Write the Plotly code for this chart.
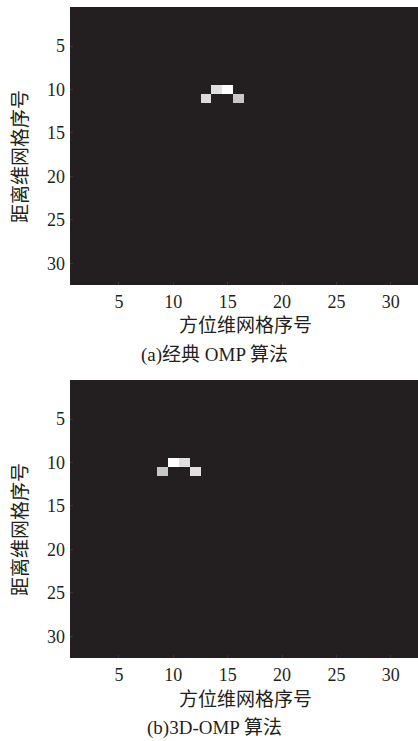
import plotly.graph_objects as go

# Grid size (range bins x azimuth bins)
n_grid = 32
grid_index = list(range(1, n_grid + 1))
tick_values = [5, 10, 15, 20, 25, 30]
tick_text = ["5", "10", "15", "20", "25", "30"]

# Recovered scatterers: (range row, azimuth column, normalised amplitude)
omp_rows = [10, 10, 11, 11]
omp_cols = [14, 15, 13, 16]
omp_vals = [0.86, 1.00, 0.84, 0.75]

omp3d_rows = [10, 10, 11, 11]
omp3d_cols = [10, 11, 9, 12]
omp3d_vals = [1.00, 0.86, 0.75, 0.86]

x_title = "方位维网格序号"
y_title = "距离维网格序号"
captions = ["(a)经典 OMP 算法", "(b)3D-OMP 算法"]


def build_image(rows, cols, vals):
    z = [[0.0] * n_grid for _ in range(n_grid)]
    for r, c, v in zip(rows, cols, vals):
        z[r - 1][c - 1] = v
    return z


W, H = 418, 741
font_family = "Liberation Serif, 'Noto Sans CJK SC', serif"
text_color = "#231f20"

# panel pixel boxes: (top, bottom)
panels = [(7, 285), (380, 658)]
x_left = 70

fig = go.Figure()
images = [build_image(omp_rows, omp_cols, omp_vals),
          build_image(omp3d_rows, omp3d_cols, omp3d_vals)]

colorscale = [[0.0, "#231f20"], [1.0, "#ffffff"]]

for i, z in enumerate(images):
    xa = "x" if i == 0 else "x2"
    ya = "y" if i == 0 else "y2"
    fig.add_trace(go.Heatmap(
        z=z, x=grid_index, y=grid_index,
        colorscale=colorscale, zmin=0, zmax=1,
        showscale=False, xaxis=xa, yaxis=ya,
        hoverinfo="skip",
    ))

axis_common = dict(
    tickmode="array", tickvals=tick_values, ticktext=tick_text,
    ticks="inside", ticklen=3, tickcolor="#3a3637",
    showgrid=False, zeroline=False, showline=False,
    tickfont=dict(family=font_family, size=18, color=text_color),
)

layout = dict(
    width=W, height=H,
    margin=dict(l=0, r=0, t=0, b=0),
    paper_bgcolor="white", plot_bgcolor="white",
    showlegend=False,
)

annotations = []
for i, (top, bottom) in enumerate(panels):
    sx = "" if i == 0 else "2"
    y0 = 1 - bottom / H
    y1 = 1 - top / H
    layout["xaxis" + sx] = dict(
        axis_common, domain=[x_left / W, 1.0], range=[0.5, n_grid + 0.5],
        anchor="y" + sx, ticklabelstandoff=4,
    )
    layout["yaxis" + sx] = dict(
        axis_common, domain=[y0, y1], range=[n_grid + 0.5, 0.5],
        anchor="x" + sx, ticklabelstandoff=4,
    )
    # axis titles and caption
    annotations.append(dict(
        text=x_title, xref="paper", yref="paper",
        x=246 / W, y=1 - (bottom + 41) / H, showarrow=False,
        xanchor="center", yanchor="middle",
        font=dict(family=font_family, size=19, color=text_color),
    ))
    annotations.append(dict(
        text=y_title, xref="paper", yref="paper", textangle=-90,
        x=20 / W, y=1 - (top + 150) / H, showarrow=False,
        xanchor="center", yanchor="middle",
        font=dict(family=font_family, size=19, color=text_color),
    ))
    annotations.append(dict(
        text=captions[i], xref="paper", yref="paper",
        x=215 / W, y=1 - (bottom + 70) / H, showarrow=False,
        xanchor="center", yanchor="middle",
        font=dict(family=font_family, size=19, color=text_color),
    ))

layout["annotations"] = annotations
fig.update_layout(**layout)

fig.write_html("out.html")
